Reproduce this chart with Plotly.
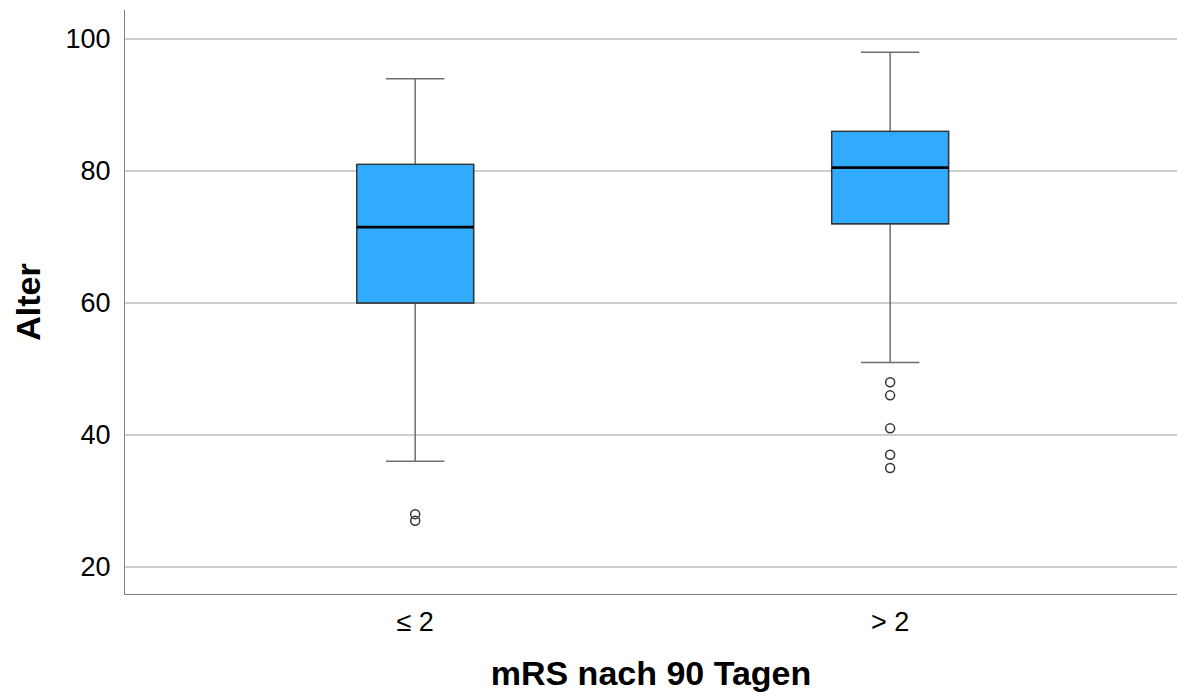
import plotly.graph_objects as go

# Age by mRS group after 90 days
categories = ["≤ 2", "> 2"]
q1 = [60, 72]
median = [71.5, 80.5]
q3 = [81, 86]
lower_whisker = [36, 51]
upper_whisker = [94, 98]
outliers = [[28, 27], [48, 46, 41, 37, 35]]

positions = [0, 1]
box_width = 0.246
fill = "#31abff"

fig = go.Figure()

# Full box with whiskers (grey whisker lines)
fig.add_trace(go.Box(
    x=positions, q1=q1, median=median, q3=q3,
    lowerfence=lower_whisker, upperfence=upper_whisker,
    width=box_width, whiskerwidth=0.5,
    fillcolor=fill, line=dict(color="#6e6e6e", width=1.5),
    boxpoints=False, hoverinfo="skip", showlegend=False,
))

# Box body overlay with darker outline
fig.add_trace(go.Box(
    x=positions, q1=q1, median=median, q3=q3,
    lowerfence=q1, upperfence=q3,
    width=box_width, whiskerwidth=0,
    fillcolor=fill, line=dict(color="#333333", width=1.4),
    boxpoints=False, hoverinfo="skip", showlegend=False,
))

# Median lines in black
for p, m in zip(positions, median):
    fig.add_trace(go.Scatter(
        x=[p - box_width / 2, p + box_width / 2], y=[m, m],
        mode="lines", line=dict(color="black", width=2.8),
        hoverinfo="skip", showlegend=False,
    ))

# Outliers as open circles
for p, pts in zip(positions, outliers):
    fig.add_trace(go.Scatter(
        x=[p] * len(pts), y=pts, mode="markers",
        marker=dict(symbol="circle-open", size=9, color="#333333",
                    line=dict(width=1.5)),
        hoverinfo="skip", showlegend=False,
    ))

fig.update_layout(
    width=1177, height=692,
    margin=dict(l=125, r=0, t=10, b=98),
    paper_bgcolor="white", plot_bgcolor="white",
    font=dict(family="Liberation Sans, Arial, sans-serif", color="black"),
    xaxis=dict(
        range=[-0.611, 1.604],
        tickmode="array", tickvals=positions, ticktext=categories,
        tickfont=dict(size=27), ticks="outside", ticklen=4,
        tickcolor="rgba(0,0,0,0)",
        showgrid=False, zeroline=False,
        showline=True, linecolor="#7f7f7f", linewidth=1,
        title=dict(text="<b>mRS nach 90 Tagen</b>", font=dict(size=34), standoff=25),
    ),
    yaxis=dict(
        range=[15.9, 104.4],
        tickvals=[20, 40, 60, 80, 100],
        tickfont=dict(size=27), ticks="outside", ticklen=8,
        tickcolor="rgba(0,0,0,0)",
        showgrid=True, gridcolor="#cfcfcf", gridwidth=1.5,
        zeroline=False,
        showline=True, linecolor="#7f7f7f", linewidth=1,
        title=dict(text="<b>Alter</b>", font=dict(size=34), standoff=14),
    ),
)

fig.write_html("out.html")
